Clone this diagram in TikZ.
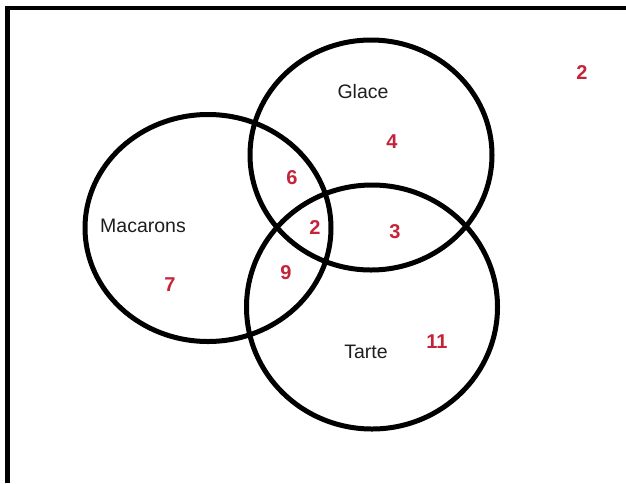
\documentclass[tikz,border=0pt]{standalone}
\usepackage{fontspec}
\setmainfont{Liberation Sans}
\usetikzlibrary{shapes.geometric}
\definecolor{numred}{RGB}{196,36,56}
\definecolor{labgray}{RGB}{30,30,30}
\begin{document}
\begin{tikzpicture}[x=1pt,y=-1pt,
  setcircle/.style={draw=black, line width=5pt, ellipse, inner sep=0pt, outer sep=0pt},
  setlabel/.style={text=labgray, font=\fontsize{19.5}{22}\selectfont, inner sep=0pt},
  count/.style={text=numred, font=\fontsize{20}{22}\selectfont\bfseries, inner sep=0pt},
  frame/.style={line width=4.5pt, draw=black}]
\useasboundingbox (0,0) rectangle (626,483);
\fill[white] (0,0) rectangle (626,483);
\coordinate (tl) at (7.5,8);
\coordinate (tr) at (626,8);
\coordinate (bl) at (7.5,483);
\draw[frame] (tr) -- (tl) -- (bl);
\node[setcircle, minimum width=246pt, minimum height=227pt] (mac) at (208,228) {};
\node[setcircle, minimum width=242pt, minimum height=230pt] (gla) at (371,155) {};
\node[setcircle, minimum width=251pt, minimum height=244pt] (tar) at (372,307) {};
\node[setlabel] (lmac) at (143,226) {Macarons};
\node[setlabel] (lgla) at (363,92) {Glace};
\node[setlabel] (ltar) at (366,352) {Tarte};
\node[count] (nout) at (582,73) {2};
\node[count] (ng) at (392,142) {4};
\node[count] (nmg) at (292,178) {6};
\node[count] (nall) at (315,228) {2};
\node[count] (ngt) at (395,232) {3};
\node[count] (nmt) at (286,273) {9};
\node[count] (nm) at (170,285) {7};
\node[count] (nt) at (437,342) {11};
\end{tikzpicture}
\end{document}
